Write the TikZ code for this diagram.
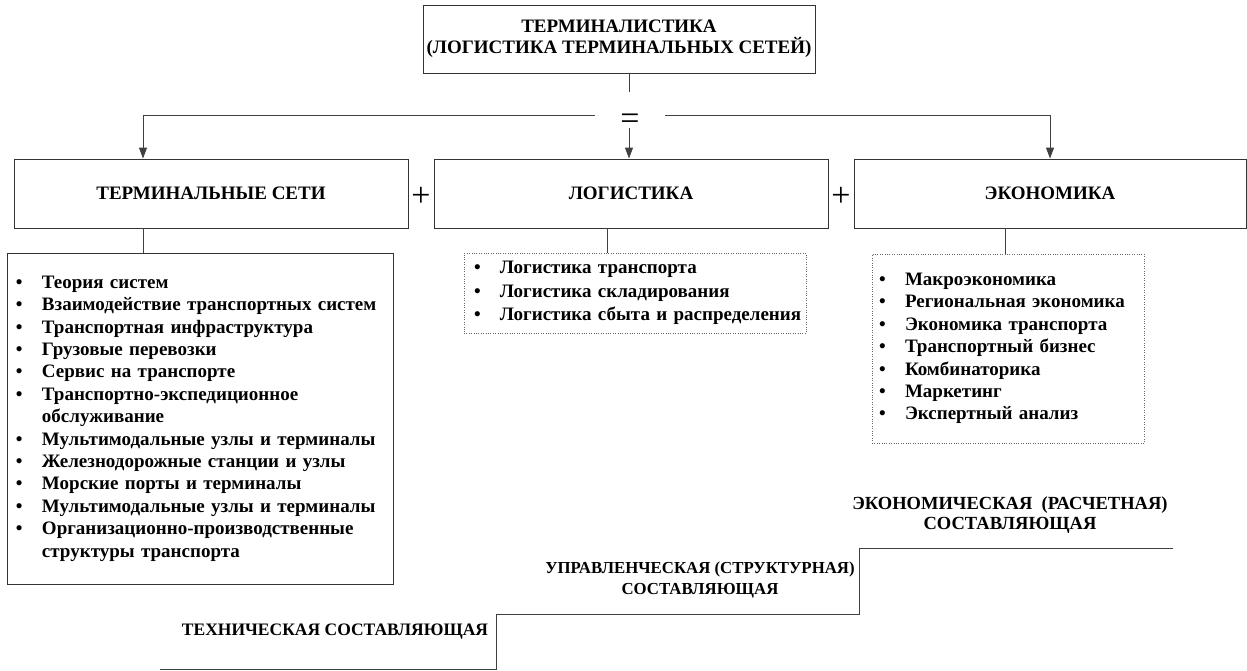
\documentclass[tikz,border=0pt]{standalone}
\usepackage{fontspec}
\setmainfont{Liberation Serif}
\usetikzlibrary{calc}
\usetikzlibrary{arrows.meta}
\newcommand{\itm}[1]{\makebox[26pt][l]{\textbullet}#1}

\begin{document}
\begin{tikzpicture}[x=1pt,y=-1pt,
        box/.style={draw=black!80, line width=0.9pt, font=\fontsize{19}{21}\bfseries, align=center, inner sep=0pt},
        lst/.style={align=left, inner ysep=0pt, font=\fontsize{19}{22.4}\bfseries},
        stl/.style={align=center, inner sep=0pt},
        conn/.style={draw=black!75, line width=0.9pt},
        arr/.style={conn, -{Triangle[width=8pt,length=11pt]}},
        sign/.style={font=\fontsize{34}{34}\selectfont, inner sep=0pt, anchor=base}]
        \useasboundingbox (0,0) rectangle (1247,670);

        \node[box, minimum width=392pt, minimum height=68pt] (top) at (619,39) {ТЕРМИНАЛИСТИКА\\(ЛОГИСТИКА ТЕРМИНАЛЬНЫХ СЕТЕЙ)};
        \node[sign] (eq) at (630,129) {=};

        \node[box, minimum width=394pt, minimum height=69pt] (tset) at (211,193.5) {ТЕРМИНАЛЬНЫЕ СЕТИ};
        \node[box, minimum width=394pt, minimum height=69pt] (logi) at (631,193.5) {ЛОГИСТИКА};
        \node[box, minimum width=392pt, minimum height=69pt] (econ) at (1050,193.5) {ЭКОНОМИКА};
        \node[sign] (p1) at (421,206) {+};
        \node[sign] (p2) at (841,206) {+};

        \node[lst, draw=black!80, line width=0.9pt, text width=368pt, inner xsep=9pt, minimum height=331pt] (tlist) at (200,418.5) {%
            \itm{Теория систем}\\
            \itm{Взаимодействие транспортных систем}\\
            \itm{Транспортная инфраструктура}\\
            \itm{Грузовые перевозки}\\
            \itm{Сервис на транспорте}\\
            \itm{Транспортно-экспедиционное}\\
            \hspace*{26pt}обслуживание\\
            \itm{Мультимодальные узлы и терминалы}\\
            \itm{Железнодорожные станции и узлы}\\
            \itm{Морские порты и терминалы}\\
            \itm{Мультимодальные узлы и терминалы}\\
            \itm{Организационно-производственные}\\
            \hspace*{26pt}структуры транспорта};
        \node[lst, font=\fontsize{19}{23.5}\bfseries, draw=black!60, dotted, text width=334pt, inner xsep=4pt, minimum height=80pt] (llist) at (635,293) {%
            \hspace*{6pt}\itm{Логистика транспорта}\\
            \hspace*{6pt}\itm{Логистика складирования}\\
            \hspace*{6pt}\itm{Логистика сбыта и распределения}};
        \node[lst, draw=black!60, dotted, text width=258pt, inner xsep=7pt, minimum height=189pt] (elist) at (1008,348.5) {%
            \itm{Макроэкономика}\\
            \itm{Региональная экономика}\\
            \itm{Экономика транспорта}\\
            \itm{Транспортный бизнес}\\
            \itm{Комбинаторика}\\
            \itm{Маркетинг}\\
            \itm{Экспертный анализ}};

        % connectors
        \coordinate (tx) at (143,0);
        \coordinate (lx) at (607,0);
        \coordinate (ex) at (1005,0);
        \coordinate (eqtop) at (629,92);
        \coordinate (eqbot) at (629,128);
        \coordinate (eqw) at (595,115);
        \coordinate (eqe) at (665,115);
        \draw[conn] (top.south -| eqtop) -- (eqtop);
        \draw[arr] (eqbot) -- (eqbot |- logi.north);
        \draw[arr] (eqw) -| (tset.north -| tx);
        \draw[arr] (eqe) -| (econ.north);
        \draw[conn] (tset.south -| tx) -- (tlist.north -| tx);
        \draw[conn] (logi.south -| lx) -- (llist.north -| lx);
        \draw[conn] (econ.south -| ex) -- (elist.north -| ex);

        % stairs
        \draw[conn] (160,669) -- (496,669) -- (496,614) -- (859,614) -- (859,548) -- (1173,548);
        \node[stl, font=\fontsize{17.5}{20}\bfseries] (tech) at (335,632) {ТЕХНИЧЕСКАЯ СОСТАВЛЯЮЩАЯ};
        \node[stl, font=\fontsize{16.8}{20.5}\bfseries] (upr) at (700,580) {УПРАВЛЕНЧЕСКАЯ (СТРУКТУРНАЯ)\\СОСТАВЛЯЮЩАЯ};
        \node[stl, font=\fontsize{18.5}{20}\bfseries] (ekn) at (1010,515.5) {ЭКОНОМИЧЕСКАЯ\ \ (РАСЧЕТНАЯ)\\СОСТАВЛЯЮЩАЯ};
\end{tikzpicture}
\end{document}
